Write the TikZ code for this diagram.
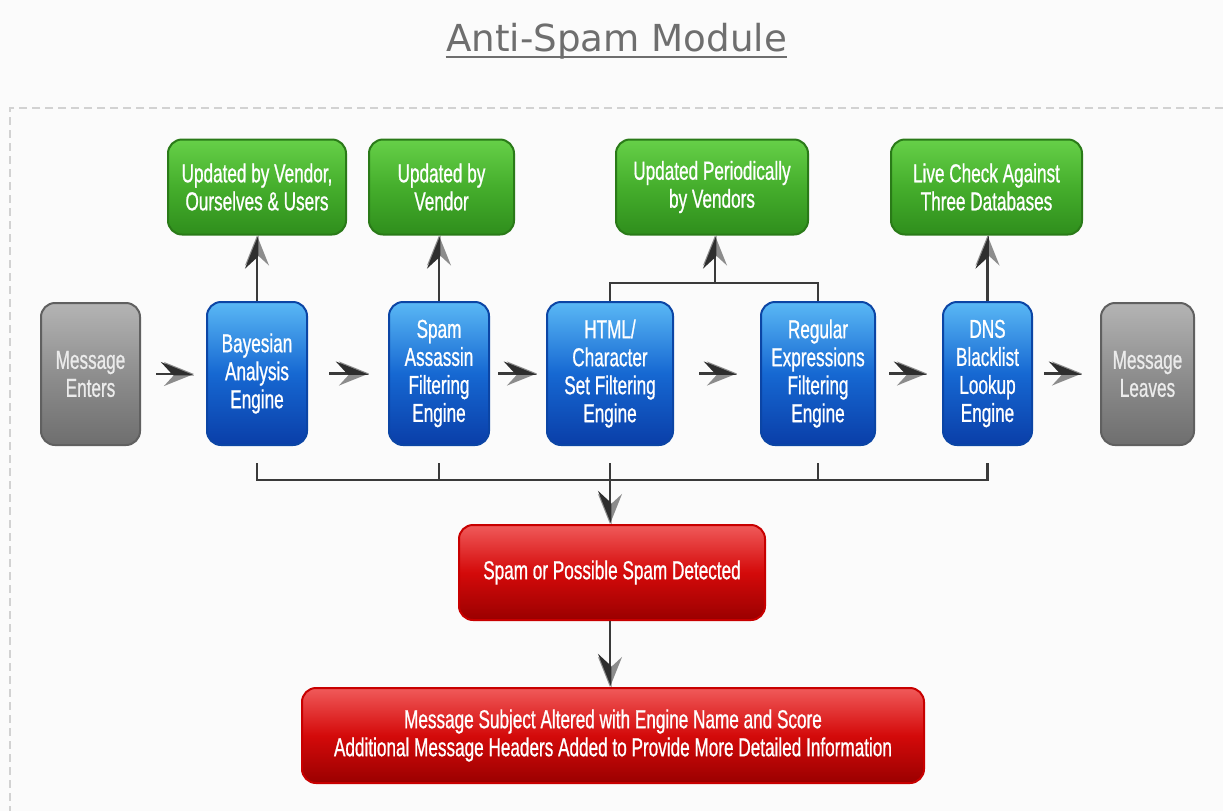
\documentclass[tikz,border=0pt]{standalone}
\usepackage{fontspec}
\setmainfont{Liberation Sans}
\newfontfamily\cond[FakeStretch=0.66,FakeBold=0.8]{Liberation Sans}
\newfontfamily\titlefont{DejaVu Sans}
\usetikzlibrary{arrows.meta,calc}
\definecolor{bgc}{HTML}{FBFBFB}
\definecolor{dashc}{HTML}{D2D2D2}
\definecolor{linec}{HTML}{3A3A3A}
\definecolor{arrdark}{HTML}{2E2E2E}
\definecolor{arrlight}{HTML}{8C8C8C}
\definecolor{titlec}{HTML}{6E6E6E}
\definecolor{gtop}{HTML}{66D048}
\definecolor{gmid}{HTML}{45AE2C}
\definecolor{gbot}{HTML}{2F8E1C}
\definecolor{gborder}{HTML}{2A7A18}
\definecolor{btop}{HTML}{5AB8F5}
\definecolor{bmid}{HTML}{1668D2}
\definecolor{bbot}{HTML}{0A3EA8}
\definecolor{bborder}{HTML}{0B45A5}
\definecolor{ktop}{HTML}{B4B4B4}
\definecolor{kmid}{HTML}{8E8E8E}
\definecolor{kbot}{HTML}{6E6E6E}
\definecolor{kborder}{HTML}{606060}
\definecolor{rtop}{HTML}{F05A5A}
\definecolor{rmid}{HTML}{D40A0A}
\definecolor{rbot}{HTML}{9A0000}
\definecolor{rborder}{HTML}{C80000}
\begin{document}
\begin{tikzpicture}[x=0.5pt,y=-0.5pt,
  box/.style={rounded corners=7pt, line width=1pt, align=center,
    font=\cond\fontsize{13}{14}\selectfont, text=white, inner sep=2pt},
  gbox/.style={box, draw=gborder, top color=gtop, bottom color=gbot, middle color=gmid, minimum height=47.5pt},
  bbox/.style={box, draw=bborder, top color=btop, bottom color=bbot, middle color=bmid, minimum height=71.5pt},
  kbox/.style={box, draw=kborder, top color=ktop, bottom color=kbot, middle color=kmid, minimum height=71pt, text=white!92!black},
  rbox/.style={box, draw=rborder, top color=rtop, bottom color=rbot, middle color=rmid, minimum height=47.5pt},
  conn/.style={draw=linec, line width=1.25pt},
  arr/.style={conn, -{Stealth[length=15pt, width=12pt, inset=5.5pt, color=arrlight]},
    postaction={draw=linec, -{Stealth[length=15pt, width=12pt, inset=5.5pt, harpoon, color=arrdark]}}},
  arrs/.style={conn, -{Stealth[length=15pt, width=12pt, inset=5.5pt, color=arrlight]},
    postaction={draw=linec, -{Stealth[length=15pt, width=12pt, inset=5.5pt, harpoon, swap, color=arrdark]}}},
]
\useasboundingbox (0,0) rectangle (1223,811);
\fill[bgc] (0,0) rectangle (1223,811);
\draw[dashc, line width=0.75pt, dash pattern=on 4pt off 2.5pt] (1223,108) -- (10,108) -- (10,811);

\node[font=\titlefont\fontsize{18.6}{22}\selectfont, text=titlec, inner sep=0pt, anchor=base] (title) at (616.5,51) {Anti-Spam Module};
\draw[titlec, line width=0.8pt] ([yshift=-3pt]title.base west) -- ([yshift=-3pt]title.base east);

% green boxes
\node[gbox, minimum width=89pt] (G1) at (257,187) {Updated by Vendor,\\Ourselves \& Users};
\node[gbox, minimum width=72.5pt] (G2) at (441.5,187) {Updated by\\Vendor};
\node[gbox, minimum width=96pt] (G3) at (712,187) {Updated Periodically\\by Vendors};
\node[gbox, minimum width=95.5pt] (G4) at (986.5,187) {Live Check Against\\Three Databases};

% main row
\node[kbox, minimum width=49.5pt] (IN) at (90.5,374) {Message\\Enters};
\node[bbox, minimum width=50pt] (B1) at (257,373.5) {Bayesian\\Analysis\\Engine};
\node[bbox, minimum width=50pt] (B2) at (439,373.5) {Spam\\Assassin\\Filtering\\Engine};
\node[bbox, minimum width=63pt] (B3) at (610,373.5) {HTML/\\Character\\Set Filtering\\Engine};
\node[bbox, minimum width=57pt] (B4) at (818,373.5) {Regular\\Expressions\\Filtering\\Engine};
\node[bbox, minimum width=44.5pt] (B5) at (987.5,373.5) {DNS\\Blacklist\\Lookup\\Engine};
\node[kbox, minimum width=46.5pt] (OUT) at (1147.5,374) {Message\\Leaves};

% red boxes
\node[rbox, minimum width=153pt] (R1) at (612,572.5) {Spam or Possible Spam Detected};
\node[rbox, minimum width=311pt] (R2) at (613,735.5) {Message Subject Altered with Engine Name and Score\\Additional Message Headers Added to Provide More Detailed Information};

% horizontal flow
\draw[arr, shorten <=7.5pt, shorten >=6pt] (IN.east) -- (B1.west |- IN.east);
\draw[arr, shorten <=10.5pt, shorten >=9.5pt] (B1.east) -- (B2.west);
\draw[arr, shorten <=4pt, shorten >=4.5pt] (B2.east) -- (B3.west);
\draw[arr, shorten <=12.5pt, shorten >=11.5pt] (B3.east) -- (B4.west);
\draw[arr, shorten <=6.5pt, shorten >=7.5pt] (B4.east) -- (B5.west);
\draw[arr, shorten <=5.5pt, shorten >=9pt] (B5.east) -- (OUT.west |- B5.east);

% up to green
\draw[arr] (B1.north) -- (B1.north |- G1.south);
\draw[arr] (B2.north) -- (B2.north |- G2.south);
\draw[arr] (B5.north) -- (B5.north |- G4.south);
\coordinate (J) at (715,283);
\draw[conn] (B3.north) |- (J) -| (B4.north);
\draw[arr] (J) -- (J |- G3.south);

% bottom bus
\coordinate (bus) at (610,480);
\draw[conn] ([yshift=-8.5pt]B1.south) -- (B1.south |- bus) -- (B5.south |- bus) -- ([yshift=-8.5pt]B5.south);
\draw[conn] ([yshift=-8.5pt]B2.south) -- (B2.south |- bus);
\draw[conn] ([yshift=-8.5pt]B4.south) -- (B4.south |- bus);
\draw[arrs] ([yshift=-8.5pt]B3.south) -- (B3.south |- R1.north);
\draw[arrs] (R1.south -| B3.south) -- (B3.south |- R2.north);
\end{tikzpicture}
\end{document}
